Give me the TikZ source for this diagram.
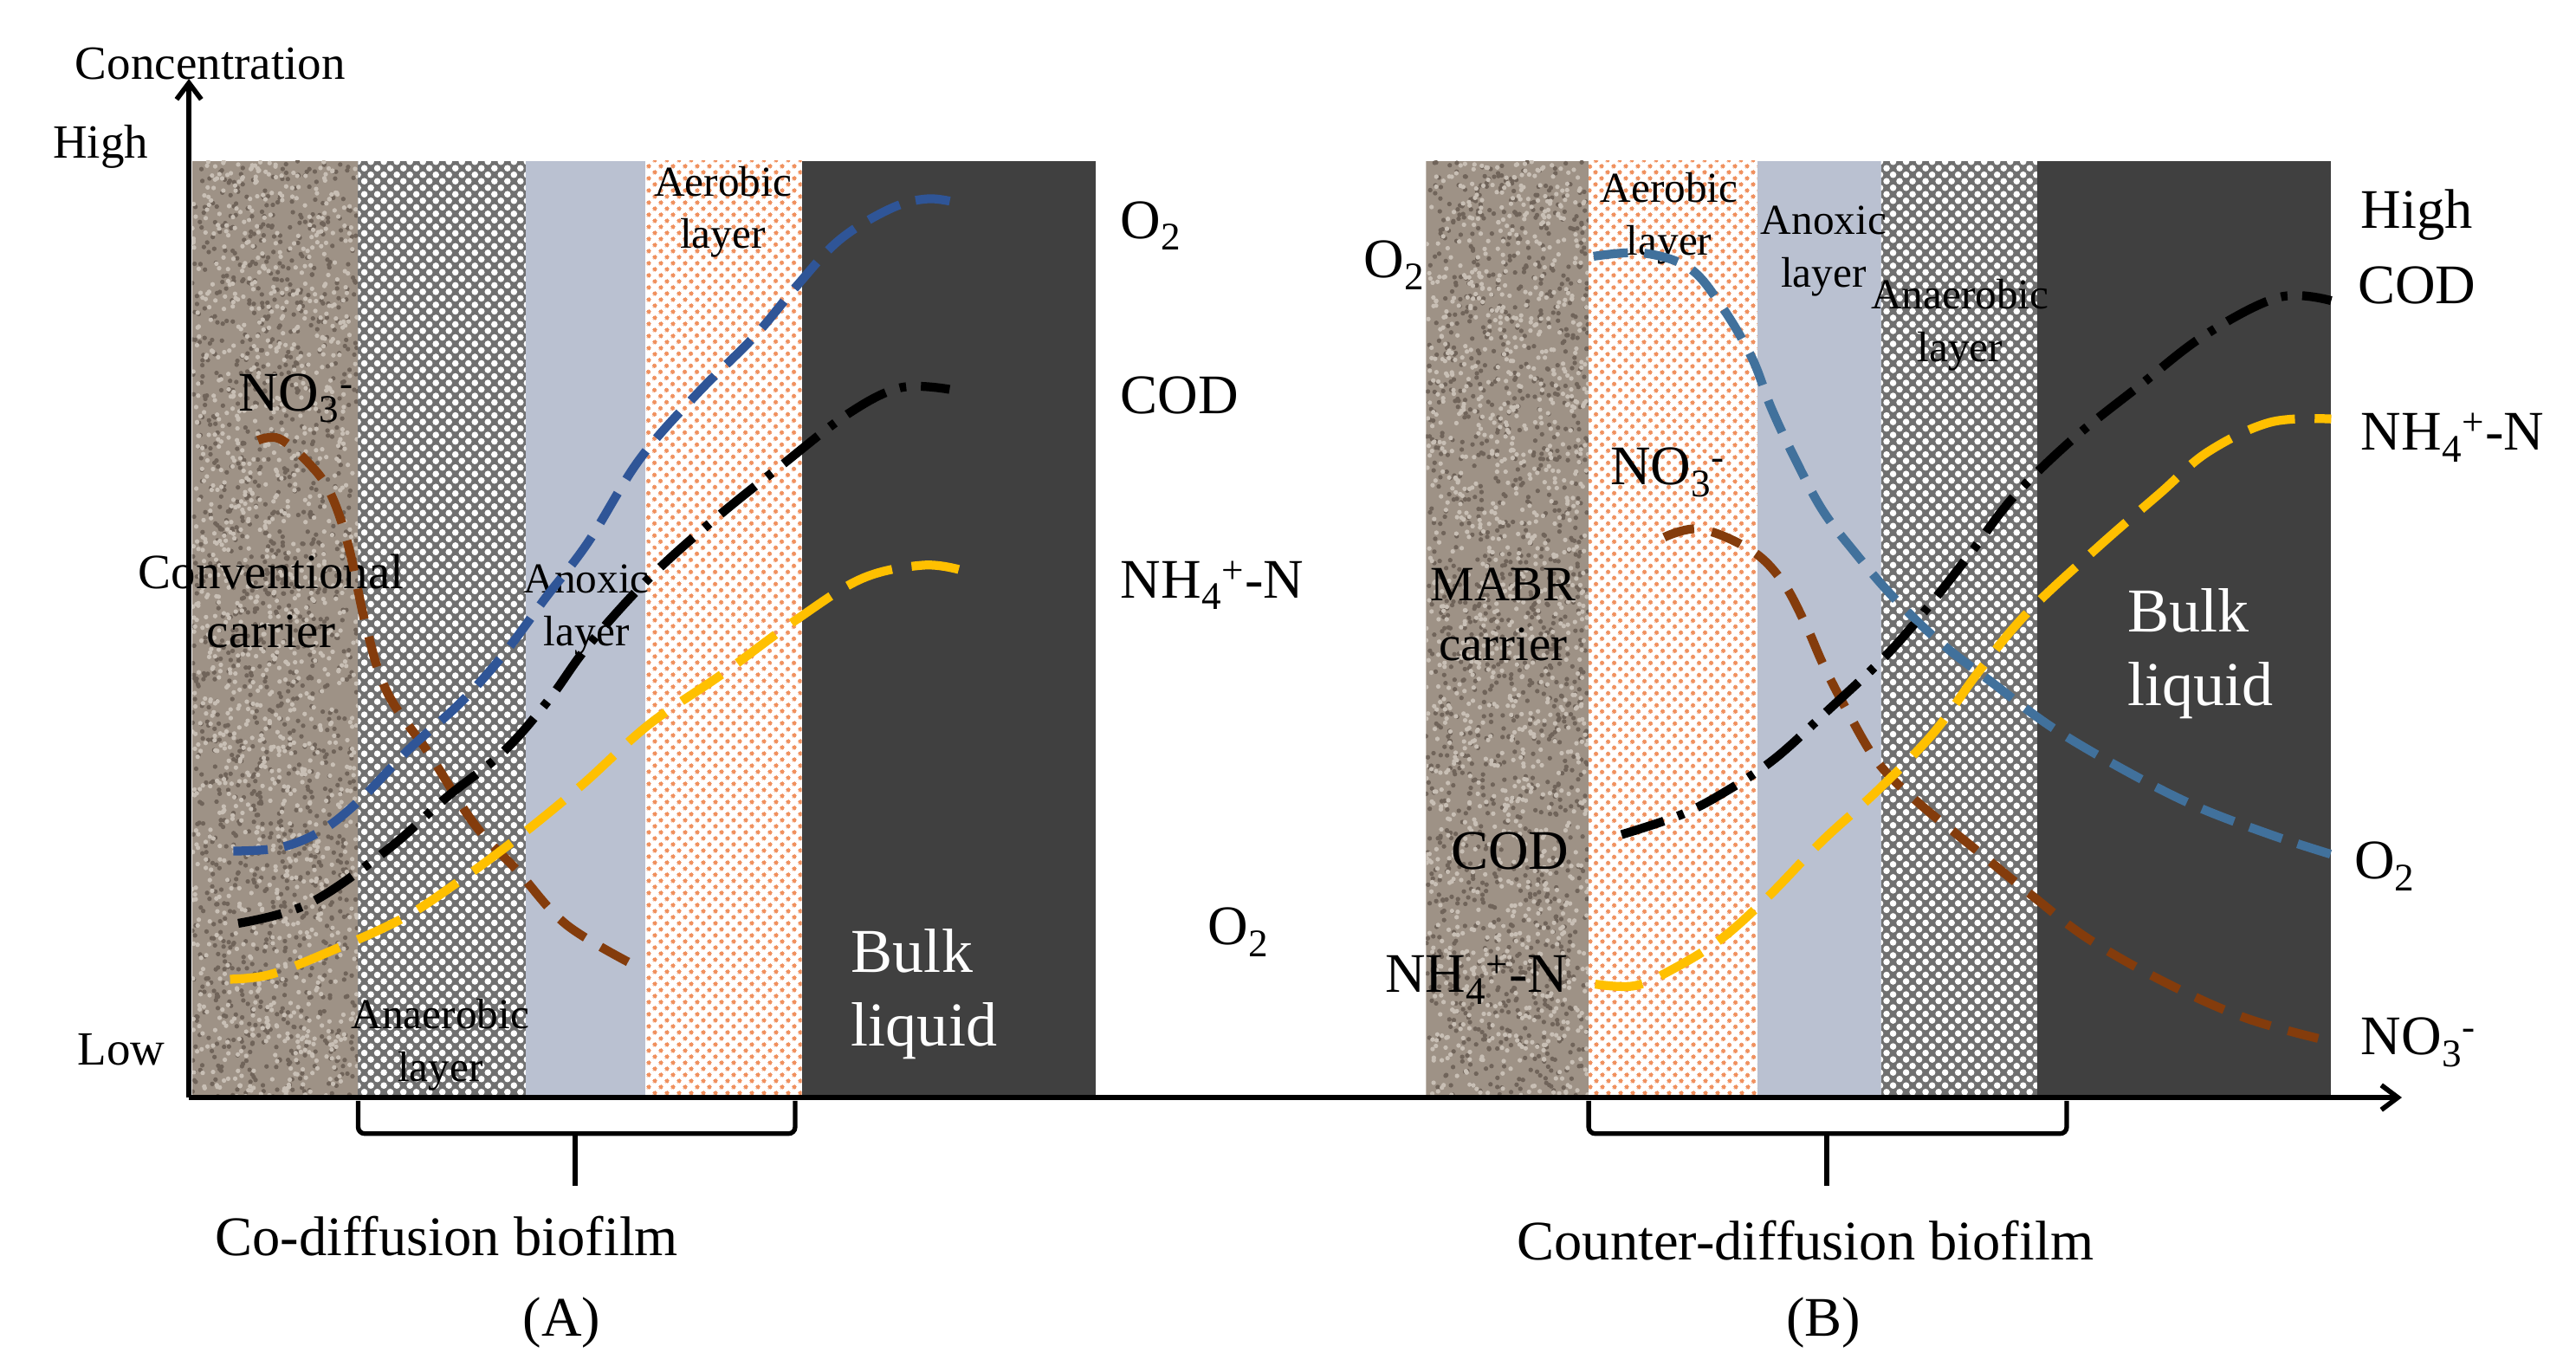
\documentclass[tikz,border=0pt]{standalone}
\usepackage{fontspec}
\setmainfont{Liberation Serif}
\usetikzlibrary{patterns.meta,arrows.meta}
\definecolor{carrierbase}{RGB}{158,146,134}
\definecolor{carrierdark}{RGB}{112,100,90}
\definecolor{carrierlight}{RGB}{200,191,181}
\definecolor{anaerbase}{RGB}{112,112,112}
\definecolor{anoxcol}{RGB}{186,193,209}
\definecolor{aerodot}{RGB}{240,145,95}
\definecolor{bulkcol}{RGB}{64,64,64}
\definecolor{oxA}{RGB}{47,85,151}
\definecolor{oxB}{RGB}{65,113,156}
\definecolor{nitro}{RGB}{132,60,12}
\definecolor{ammo}{RGB}{255,192,0}
\newcommand{\carriertex}[4]{%
  \begin{scope}
    \clip (#1,#2) rectangle (#3,#4);
    \fill[carrierbase] (#1,#2) rectangle (#3,#4);
    \foreach \i in {1,...,1400}{%
      \pgfmathsetmacro{\px}{#1+(#3-#1)*rnd}%
      \pgfmathsetmacro{\py}{#2+(#4-#2)*rnd}%
      \fill[carrierdark] (\px,\py) circle (1.4pt);
    }
    \foreach \i in {1,...,1400}{%
      \pgfmathsetmacro{\px}{#1+(#3-#1)*rnd}%
      \pgfmathsetmacro{\py}{#2+(#4-#2)*rnd}%
      \fill[carrierlight] (\px,\py) circle (1.4pt);
    }
  \end{scope}}
\begin{document}
\begin{tikzpicture}[x=1pt,y=-1pt,
  axis/.style={line width=3pt,-{Straight Barb[length=10pt,width=15pt,line width=3pt]}},
  brace/.style={line width=2.8pt,rounded corners=4pt},
  anaer/.style={fill=anaerbase,postaction={pattern={Dots[distance=5.6pt,radius=2pt,angle=45]},pattern color=white}},
  anox/.style={fill=anoxcol},
  aero/.style={fill=white,postaction={pattern={Dots[distance=5.4pt,radius=1.5pt,angle=45]},pattern color=aerodot}},
  bulk/.style={fill=bulkcol},
  curve/.style={line width=5.4pt,smooth,tension=0.6},
  oxcurveA/.style={curve,oxA,dash pattern=on 21pt off 10pt},
  oxcurveB/.style={curve,oxB,dash pattern=on 21pt off 10pt},
  nocurve/.style={curve,nitro,dash pattern=on 19pt off 11pt},
  nhcurve/.style={curve,ammo,dash pattern=on 29pt off 12pt},
  codcurve/.style={curve,black,dash pattern=on 27pt off 9pt on 4pt off 9pt},
  big/.style={font=\fontsize{34}{38}\selectfont,inner sep=0pt},
  mid/.style={font=\fontsize{30}{36}\selectfont,inner sep=0pt,align=center},
  lay/.style={font=\fontsize{26}{32}\selectfont,inner sep=0pt,align=center},
  bulktxt/.style={font=\fontsize{38}{45}\selectfont,inner sep=0pt,align=left,text=white},
  axlbl/.style={font=\fontsize{29}{34}\selectfont,inner sep=0pt}
]
\useasboundingbox (0,0) rectangle (1568,831);
\pgfmathsetseed{7}
% ---------- Panel A layers ----------
\carriertex{117}{98}{218}{668}
\fill[anaer] (218,98) rectangle (320,668);
\fill[anox] (320,98) rectangle (393,668);
\fill[aero] (393,98) rectangle (488,668);
\fill[bulk] (488,98) rectangle (667,668);
% ---------- Panel B layers ----------
\carriertex{868}{98}{967}{668}
\fill[aero] (967,98) rectangle (1070,668);
\fill[anox] (1070,98) rectangle (1145,668);
\fill[anaer] (1145,98) rectangle (1240,668);
\fill[bulk] (1240,98) rectangle (1419,668);

% ---------- Layer labels ----------
\node[lay] (aerA) at (440,129) {Aerobic\\layer};
\node[lay] (anoxA) at (357,371) {Anoxic\\layer};
\node[lay] (anaerA) at (268,636) {Anaerobic\\layer};
\node[mid] (carA) at (165,366) {Conventional\\carrier};
\node[bulktxt,anchor=west] (bulkA) at (518,605) {Bulk\\liquid};
\node[lay] (aerB) at (1016,133) {Aerobic\\layer};
\node[lay] (anoxB) at (1110,153) {Anoxic\\layer};
\node[lay] (anaerB) at (1193,198) {Anaerobic\\layer};
\node[mid] (carB) at (915,374) {MABR\\carrier};
\node[bulktxt,anchor=west] (bulkB) at (1295,398) {Bulk\\liquid};

% ---------- Curves panel A ----------
\draw[nocurve] plot coordinates {(157,268) (170,267) (188,282) (201,300) (212,332) (223,382) (236,422) (262,460) (289,502) (315,530) (345,563) (389,589)};
\draw[oxcurveA] plot coordinates {(142,518) (170,516) (195,506) (219,487) (249,456) (280,428) (306,399) (332,364) (358,330) (389,280) (424,240) (459,205) (485,174) (511,146) (542,127) (565,121) (585,124)};
\draw[codcurve] plot coordinates {(145,562) (188,550) (236,517) (271,486) (306,458) (334,426) (358,393) (395,352) (435,316) (476,283) (516,252) (548,236) (578,237)};
\draw[nhcurve] plot coordinates {(140,596) (165,593) (201,579) (245,559) (280,536) (315,510) (354,478) (395,441) (440,410) (485,377) (525,352) (562,344) (585,347)};

% ---------- Curves panel B ----------
\draw[oxcurveB] plot coordinates {(970,156) (1000,154) (1028,163) (1047,185) (1066,217) (1078,248) (1092,278) (1109,310) (1128,335) (1152,363) (1181,391) (1212,415) (1248,442) (1290,467) (1335,490) (1382,508) (1419,520)};
\draw[nocurve] plot coordinates {(1013,327) (1035,322) (1066,335) (1085,354) (1099,380) (1110,405) (1124,432) (1143,464) (1167,488) (1200,515) (1238,546) (1272,572) (1320,599) (1368,620) (1419,634)};
\draw[codcurve] plot coordinates {(987,508) (1023,496) (1050,482) (1080,462) (1112,433) (1148,399) (1174,369) (1200,336) (1226,302) (1262,267) (1302,235) (1342,204) (1387,181) (1419,183)};
\draw[nhcurve] plot coordinates {(971,599) (995,600) (1018,590) (1047,572) (1076,546) (1109,512) (1143,481) (1177,446) (1205,408) (1234,373) (1277,333) (1315,300) (1344,275) (1382,257) (1419,255)};

% ---------- Axes ----------
\coordinate (origin) at (115,668);
\coordinate (ytip) at (115,48);
\coordinate (xtip) at (1462,668);
\draw[axis] (origin) -- (ytip);
\draw[axis] (origin) -- (xtip);
\node[axlbl,anchor=base] (conc) at (128,48) {Concentration};
\node[axlbl,anchor=base west] (highA) at (32,96) {High};
\node[axlbl,anchor=base west] (lowA) at (47,648) {Low};

% ---------- Braces ----------
\coordinate (bAl) at (218,670);
\coordinate (bAr) at (484,670);
\coordinate (bAt) at (350,722);
\draw[brace] (bAl) -- (218,690) -- (484,690) -- (bAr);
\draw[line width=2.8pt] (350,690) -- (bAt);
\coordinate (bBl) at (967,670);
\coordinate (bBr) at (1258,670);
\coordinate (bBt) at (1112,722);
\draw[brace] (bBl) -- (967,690) -- (1258,690) -- (bBr);
\draw[line width=2.8pt] (1112,690) -- (bBt);

% ---------- Labels panel A ----------
\node[big,anchor=base west] (no3A) at (145,250) {NO\textsubscript{3}\textsuperscript{-}};
\node[big,anchor=base west] (o2A) at (682,145) {O\textsubscript{2}};
\node[big,anchor=base west] (codA) at (682,252) {COD};
\node[big,anchor=base west] (nhA) at (682,364) {NH\textsubscript{4}\textsuperscript{+}-N};
\node[big,anchor=base west] (o2Alow) at (735,575) {O\textsubscript{2}};
\node[big,anchor=base] (coA) at (272,764) {Co-diffusion biofilm};
\node[big,anchor=base] (capA) at (342,813) {(A)};

% ---------- Labels panel B ----------
\node[big,anchor=base west] (o2Bl) at (830,169) {O\textsubscript{2}};
\node[big,anchor=base west] (no3Bl) at (980,295) {NO\textsubscript{3}\textsuperscript{-}};
\node[big,anchor=base west] (codBl) at (883,529) {COD};
\node[big,anchor=base west] (nhBl) at (843,604) {NH\textsubscript{4}\textsuperscript{+}-N};
\node[big,anchor=base west] (highB) at (1437,139) {High};
\node[big,anchor=base west] (codB) at (1435,185) {COD};
\node[big,anchor=base west] (nhB) at (1437,274) {NH\textsubscript{4}\textsuperscript{+}-N};
\node[big,anchor=base west] (o2B) at (1433,535) {O\textsubscript{2}};
\node[big,anchor=base west] (no3B) at (1437,642) {NO\textsubscript{3}\textsuperscript{-}};
\node[big,anchor=base] (coB) at (1099,767) {Counter-diffusion biofilm};
\node[big,anchor=base] (capB) at (1110,813) {(B)};
\end{tikzpicture}
\end{document}
